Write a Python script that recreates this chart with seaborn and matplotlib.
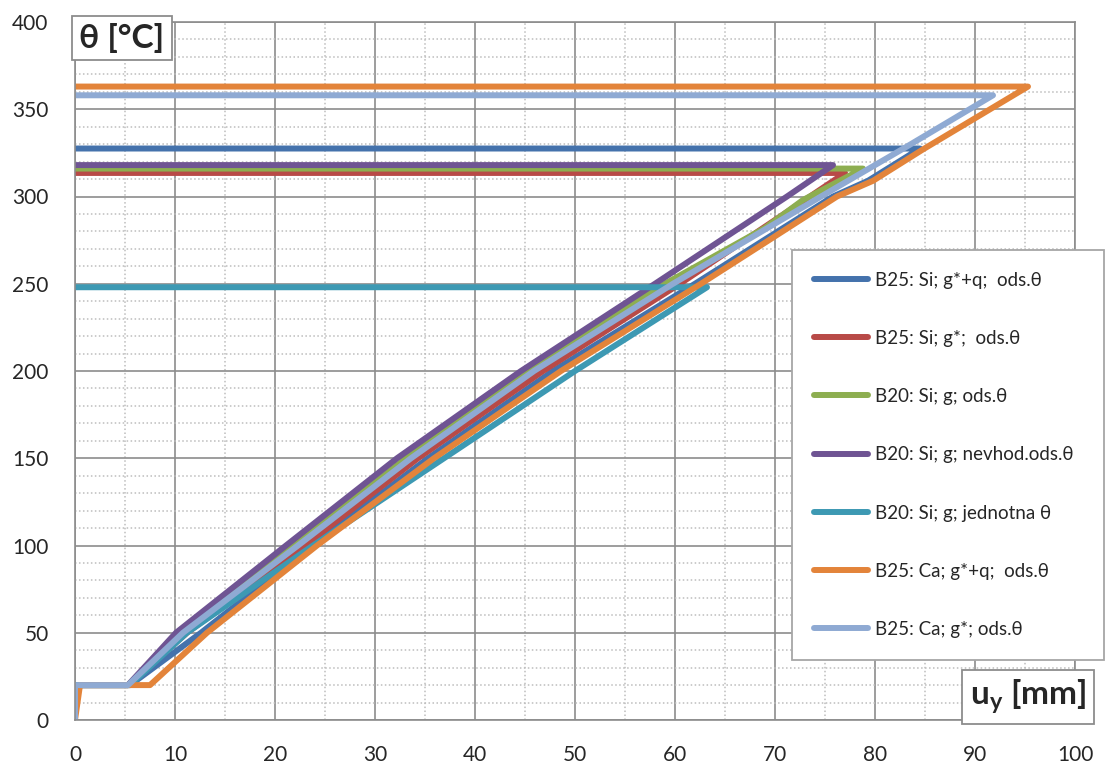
import matplotlib
matplotlib.use("Agg")
import matplotlib.pyplot as plt
from matplotlib.lines import Line2D
from matplotlib.ticker import MultipleLocator
import pandas as pd
import seaborn as sns

# ─── DATA ─────────────────────────────────────────────────────────────────────
LABELS = ["B25: Si; g*+q;  ods.θ", "B25: Si; g*;  ods.θ", "B20: Si; g; ods.θ",
          "B20: Si; g; nevhod.ods.θ", "B20: Si; g; jednotna θ",
          "B25: Ca; g*+q;  ods.θ", "B25: Ca; g*; ods.θ"]
COLORS = ["#4472AC", "#B84A47", "#8DAE50", "#6F5493", "#3D99B3", "#E3843A", "#8FAAD3"]

# u_y [mm] / theta [°C]; each series returns to the axis at its max temperature
b25_si_gq_u = [0, 0, 5.5, 12.6, 23.7, 35.3, 47.8, 62.0, 75.8, 79.3, 84.5, 0]
b25_si_gq_t = [0, 20, 20, 50, 100, 150, 200, 250, 300, 309, 327.5, 327.5]

b25_si_g_u = [0, 0, 5.3, 11.2, 23.0, 34.3, 46.8, 60.5, 73.5, 77.0, 0]
b25_si_g_t = [0, 20, 20, 50, 100, 150, 200, 250, 300, 313.5, 313.5]

b20_si_g_u = [0, 0, 5.3, 10.5, 21.9, 33.1, 45.3, 59.0, 69.0, 72.8, 78.8, 0]
b20_si_g_t = [0, 20, 20, 50, 100, 150, 200, 250, 282, 298, 316, 316]

b20_nevhod_u = [0, 0, 5.3, 10.1, 21.1, 32.2, 44.6, 58.0, 71.2, 75.8, 0]
b20_nevhod_t = [0, 20, 20, 50, 100, 150, 200, 250, 300, 318, 318]

b20_jedn_u = [0, 0, 5.5, 11.2, 23.8, 36.9, 50.0, 63.2, 0]
b20_jedn_t = [0, 20, 20, 50, 100, 150, 200, 248, 248]

b25_ca_gq_u = [0, 0.5, 7.5, 13.2, 24.2, 35.9, 48.6, 62.6, 76.2, 79.8, 84.8, 95.3, 0]
b25_ca_gq_t = [0, 20, 20, 50, 100, 150, 200, 250, 300, 309, 327, 363, 363]

b25_ca_g_u = [0, 0, 5.3, 10.8, 22.3, 33.6, 45.9, 59.8, 74.6, 80.0, 83.0, 91.8, 0]
b25_ca_g_t = [0, 20, 20, 50, 100, 150, 200, 250, 300, 318, 328, 358, 358]

SERIES = [(b25_si_gq_u, b25_si_gq_t), (b25_si_g_u, b25_si_g_t), (b20_si_g_u, b20_si_g_t),
          (b20_nevhod_u, b20_nevhod_t), (b20_jedn_u, b20_jedn_t),
          (b25_ca_gq_u, b25_ca_gq_t), (b25_ca_g_u, b25_ca_g_t)]

frames = []
for label, (u, t) in zip(LABELS, SERIES):
    frames.append(pd.DataFrame({"u": u, "t": t, "series": label}))
df = pd.concat(frames, ignore_index=True)

# ─── STYLE ────────────────────────────────────────────────────────────────────
sns.set_style("white")
plt.rcParams["font.family"] = ["Lato", "DejaVu Sans"]
plt.rcParams["mathtext.fontset"] = "custom"
plt.rcParams["mathtext.bf"] = "Lato:bold"
plt.rcParams["mathtext.rm"] = "Lato"

MAJOR = "#8c8c8c"
MINOR = "#bdbdbd"

fig = plt.figure(figsize=(11.05, 7.69), dpi=100)
ax = fig.add_axes([75 / 1105, 49 / 769, 1000 / 1105, 698 / 769])

sns.lineplot(data=df, x="u", y="t", hue="series", hue_order=LABELS,
             palette=COLORS, sort=False, estimator=None, units="series",
             lw=4.3, legend=False, ax=ax,
             solid_capstyle="round", solid_joinstyle="round")

ax.set_xlim(0, 100)
ax.set_ylim(0, 400)
ax.xaxis.set_major_locator(MultipleLocator(10))
ax.xaxis.set_minor_locator(MultipleLocator(5))
ax.yaxis.set_major_locator(MultipleLocator(50))
ax.yaxis.set_minor_locator(MultipleLocator(10))
ax.grid(which="major", color=MAJOR, lw=1.2)
ax.grid(which="minor", color=MINOR, lw=1.1, ls=(0, (1, 1.6)))
ax.set_axisbelow(True)
for s in ax.spines.values():
    s.set_color(MAJOR)
    s.set_linewidth(1.2)
ax.tick_params(axis="x", which="major", direction="out", length=4, color=MAJOR,
               width=1.2, pad=14, labelsize=15)
ax.tick_params(axis="y", which="major", length=0, pad=19, labelsize=15)
ax.tick_params(which="minor", length=0)
ax.set_xlabel("")
ax.set_ylabel("")

# axis titles in boxes
box = dict(boxstyle="square,pad=0.22", fc="white", ec="#8c8c8c", lw=1.3)
fig.text(122 / 1105, 1 - 38 / 769, "θ [°C]", fontsize=24, fontweight="bold",
         ha="center", va="center", bbox=box)
fig.text(1028 / 1105, 1 - 697 / 769, r"$\mathbf{u_y}$ [mm]", fontsize=24,
         fontweight="bold", ha="center", va="center", bbox=box)

# legend
handles = [Line2D([], [], color=c, lw=4.3, solid_capstyle="round") for c in COLORS]
leg = ax.legend(handles, LABELS, loc="upper left", mode="expand",
                bbox_to_anchor=(792 / 1105, 1 - 665 / 769, 312 / 1105, 415 / 769),
                bbox_transform=fig.transFigure, borderaxespad=0, fontsize=13.5,
                frameon=True, fancybox=False, framealpha=1, edgecolor="#a6a6a6",
                handlelength=2.9, handletextpad=0.4, labelspacing=2.2,
                borderpad=1.15)
leg.get_frame().set_linewidth(1.3)

fig.savefig("out.png", dpi=100)
